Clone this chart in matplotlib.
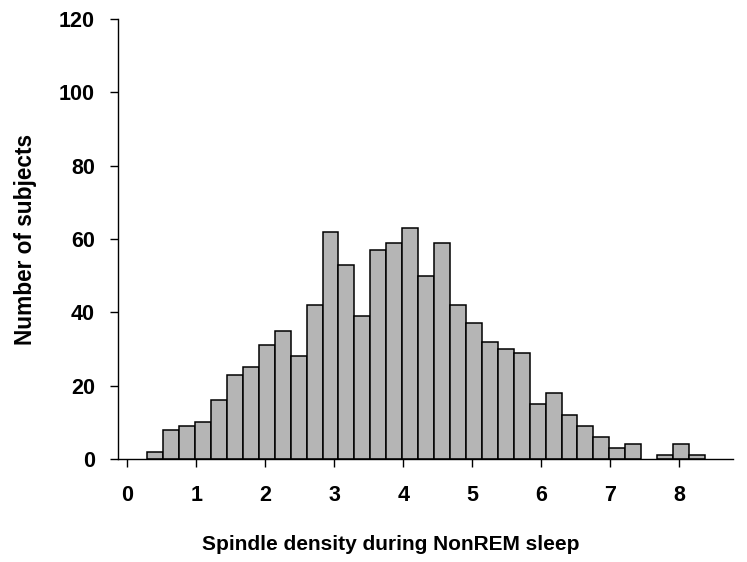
import matplotlib
matplotlib.use("Agg")
import matplotlib.pyplot as plt
import numpy as np

# Data
bin_start = 0.29
bin_width = 0.231
counts = [2, 8, 9, 10, 16, 23, 25, 31, 35, 28, 42, 62, 53, 39, 57, 59, 63, 50,
          59, 42, 37, 32, 30, 29, 15, 18, 12, 9, 6, 3, 4, 0, 1, 4, 1]
x_ticks = [0, 1, 2, 3, 4, 5, 6, 7, 8]
y_ticks = [0, 20, 40, 60, 80, 100, 120]
x_label = "Spindle density during NonREM sleep"
y_label = "Number of subjects"

plt.rcParams['font.family'] = ['Liberation Sans', 'DejaVu Sans']
plt.rcParams['font.weight'] = 'bold'

fig = plt.figure(figsize=(7.47, 5.62), dpi=100)
ax = fig.add_axes([0.158, 0.1833, 0.823, 0.7827])

lefts = bin_start + bin_width * np.arange(len(counts))
for l, c in zip(lefts, counts):
    if c > 0:
        ax.bar(l, c, width=bin_width, align='edge', color='#b5b5b5',
               edgecolor='black', linewidth=1.1)

ax.set_xlim(-0.135, 8.78)
ax.set_ylim(0, 120)
ax.set_xticks(x_ticks)
ax.set_yticks(y_ticks)
ax.spines['top'].set_visible(False)
ax.spines['right'].set_visible(False)
for s in ('left', 'bottom'):
    ax.spines[s].set_linewidth(1.0)
ax.tick_params(axis='both', direction='out', length=5.5, width=1.0,
               labelsize=15.5)
ax.tick_params(axis='y', pad=11)
ax.tick_params(axis='x', pad=13)
for lab in ax.get_xticklabels() + ax.get_yticklabels():
    lab.set_fontweight('bold')
ax.set_xlabel(x_label, fontsize=15, fontweight='bold', labelpad=21, x=0.444)
ax.set_ylabel(y_label, fontsize=16.3, fontweight='bold', labelpad=16)

fig.savefig("out.png", dpi=100)
